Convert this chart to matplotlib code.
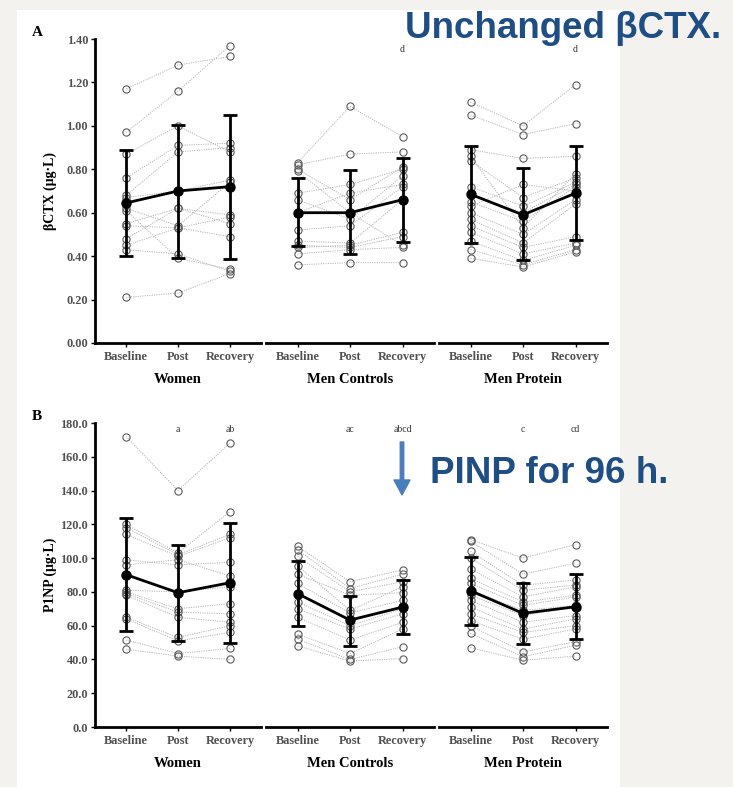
import numpy as np
import matplotlib.pyplot as plt
from matplotlib.patches import Rectangle, FancyArrowPatch

plt.rcParams['font.family'] = ['Liberation Serif', 'DejaVu Serif']

timepoints = ['Baseline', 'Post', 'Recovery']
groups = ['Women', 'Men Controls', 'Men Protein']

# panel A - bCTX, one row per subject: baseline, post, recovery
ctx_women = [[1.17, 1.28, 1.32], [0.97, 1.16, 1.37], [0.87, 1.00, 0.88],
             [0.76, 0.91, 0.92], [0.68, 0.88, 0.90], [0.67, 0.70, 0.75],
             [0.62, 0.54, 0.74], [0.61, 0.39, 0.34], [0.55, 0.62, 0.59],
             [0.54, 0.53, 0.58], [0.48, 0.62, 0.55], [0.45, 0.53, 0.49],
             [0.43, 0.41, 0.33], [0.21, 0.23, 0.32]]
ctx_men_ctrl = [[0.83, 1.09, 0.95], [0.82, 0.87, 0.88], [0.80, 0.66, 0.81],
                [0.79, 0.60, 0.45], [0.69, 0.73, 0.80], [0.66, 0.57, 0.77],
                [0.60, 0.69, 0.73], [0.52, 0.54, 0.72], [0.47, 0.46, 0.66],
                [0.45, 0.44, 0.49], [0.44, 0.45, 0.51], [0.41, 0.43, 0.44],
                [0.36, 0.37, 0.37]]
ctx_men_prot = [[1.11, 1.00, 1.19], [1.05, 0.96, 1.01], [0.89, 0.85, 0.86],
                [0.86, 0.53, 0.78], [0.84, 0.67, 0.76], [0.72, 0.63, 0.74],
                [0.68, 0.60, 0.73], [0.65, 0.56, 0.72], [0.63, 0.73, 0.70],
                [0.60, 0.50, 0.66], [0.57, 0.46, 0.64], [0.54, 0.44, 0.49],
                [0.51, 0.41, 0.46], [0.47, 0.38, 0.45], [0.43, 0.36, 0.43],
                [0.39, 0.35, 0.42]]
ctx_mean = [[0.645, 0.70, 0.72], [0.60, 0.60, 0.66], [0.685, 0.59, 0.69]]
ctx_upper = [[0.89, 1.005, 1.05], [0.76, 0.795, 0.85], [0.905, 0.805, 0.905]]
ctx_lower = [[0.40, 0.39, 0.385], [0.445, 0.41, 0.465], [0.46, 0.38, 0.475]]
ctx_letters = [['', '', ''], ['', '', 'd'], ['', '', 'd']]

# panel B - P1NP
pinp_women = [[172, 140, 168], [120, 103, 127.5], [118, 102, 114],
              [114, 101, 112], [99, 96, 97.5], [96, 99, 89.5], [81, 80, 83],
              [80, 70, 73], [79, 68, 67], [78, 65, 62], [65, 53, 60],
              [64, 51, 56], [51.5, 43.5, 46.5], [46, 42, 40]]
pinp_men_ctrl = [[107, 86, 93], [105, 82, 90.5], [101, 80, 86],
                 [95.5, 69, 83], [90.5, 78, 79.5], [85, 67.5, 75],
                 [79, 63, 71], [74, 60, 70], [70, 58, 67], [65, 51.5, 62],
                 [55, 43.5, 58], [52, 40, 47.5], [48, 39, 40.5]]
pinp_men_prot = [[111, 100, 108], [110, 90.5, 97], [104, 84, 87],
                 [100, 81, 84], [93.5, 77, 83], [88, 74, 78], [85, 72, 77],
                 [81, 69, 72], [78, 66, 71], [75, 62, 66], [71, 58, 64],
                 [67, 56, 60], [63, 52, 58], [60, 44.5, 50.5],
                 [55.5, 41.5, 48.5], [47, 39.5, 42]]
pinp_mean = [[90.2, 79.5, 85.4], [79, 63.3, 71], [80.7, 67.3, 71.2]]
pinp_upper = [[123.8, 107.8, 121], [98.3, 77.8, 87], [100.5, 85.4, 90.6]]
pinp_lower = [[57, 51, 50], [59.8, 48, 55], [60.4, 49, 52]]
pinp_letters = [['', 'a', 'ab'], ['', 'ac', 'abcd'], ['', 'c', 'cd']]

W, H = 733, 787
fig = plt.figure(figsize=(W / 100, H / 100), dpi=100)
fig.set_facecolor('#f3f2ee')
fig.patches.append(Rectangle((17 / W, 0), 603 / W, 1 - 10 / H, transform=fig.transFigure,
                             facecolor='white', edgecolor='none', zorder=-10))

cols = [(95, 261), (266, 434), (439, 607)]
x = np.arange(3)


def panel(top, bottom, subjects, mean, upper, lower, letters, ylim, yticks, fmt,
          ylabel, tag, letter_y):
    for g in range(3):
        x0, x1 = cols[g]
        ax = fig.add_axes([x0 / W, 1 - bottom / H, (x1 - x0) / W, (bottom - top) / H])
        ax.patch.set_alpha(0)
        for row in subjects[g]:
            ax.plot(x, row, color='#b5b5b5', lw=0.7, dashes=(1.2, 1.2), zorder=1,
                    marker='o', ms=5.2, mfc='none', mec='#5a5a5a', mew=0.8, clip_on=False)
        m = np.array(mean[g])
        err = [m - np.array(lower[g]), np.array(upper[g]) - m]
        ax.errorbar(x, m, yerr=err, color='black', lw=2, capsize=4.8, capthick=2,
                    marker='o', ms=6.5, zorder=5, clip_on=False)
        for i, t in enumerate(letters[g]):
            ax.text(x[i], letter_y, t, ha='center', va='center', fontsize=7,
                    color='#333333', transform=ax.get_xaxis_transform())
        ax.set_xlim(-0.6, 2.6)
        ax.set_ylim(*ylim)
        ax.set_xticks(x)
        ax.set_xticklabels(timepoints, fontsize=8.8, fontweight='bold', color='#505050')
        ax.set_xlabel(groups[g], fontsize=10.5, fontweight='bold', labelpad=7)
        for s in ['top', 'right']:
            ax.spines[s].set_visible(False)
        ax.spines['bottom'].set_linewidth(2)
        ax.tick_params(axis='x', length=3, width=1, pad=3)
        if g == 0:
            ax.spines['left'].set_linewidth(2)
            ax.set_yticks(yticks)
            ax.set_yticklabels([fmt.format(v) for v in yticks], fontsize=8.8,
                               fontweight='bold', color='#505050')
            ax.tick_params(axis='y', length=3, width=1, pad=2)
        else:
            ax.spines['left'].set_visible(False)
            ax.tick_params(axis='y', left=False, labelleft=False)
    fig.text(50 / W, 1 - (top + bottom) / 2 / H, ylabel, rotation=90, ha='center',
             va='center', fontsize=10, fontweight='bold')
    fig.text(37 / W, 1 - (top - 6) / H, tag, ha='center', va='center', fontsize=11,
             fontweight='bold')


panel(39, 343, [ctx_women, ctx_men_ctrl, ctx_men_prot], ctx_mean, ctx_upper, ctx_lower,
      ctx_letters, (0, 1.40), np.arange(0, 1.41, 0.2), '{:.2f}', 'βCTX (μg·L)', 'A', 0.964)
panel(423, 727, [pinp_women, pinp_men_ctrl, pinp_men_prot], pinp_mean, pinp_upper,
      pinp_lower, pinp_letters, (0, 180), np.arange(0, 181, 20), '{:.1f}', 'P1NP (μg·L)',
      'B', 0.98)

# slide overlay text
blue = '#1f4e85'
fig.text(405 / W, 1 - 38 / H, 'Unchanged βCTX.', color=blue, fontsize=26.5,
         fontweight='bold', family=['Liberation Sans', 'DejaVu Sans'], va='baseline')
fig.text(430 / W, 1 - 483 / H, 'PINP for 96 h.', color=blue, fontsize=26.5,
         fontweight='bold', family=['Liberation Sans', 'DejaVu Sans'], va='baseline')
fig.add_artist(FancyArrowPatch((402 / W, 1 - 442 / H), (402 / W, 1 - 495 / H),
                               transform=fig.transFigure, color='#4a7ebb',
                               arrowstyle='simple,head_length=10.8,head_width=11.5,tail_width=2.5',
                               shrinkA=0, shrinkB=0))

fig.savefig('out.png', dpi=100, facecolor=fig.get_facecolor())
